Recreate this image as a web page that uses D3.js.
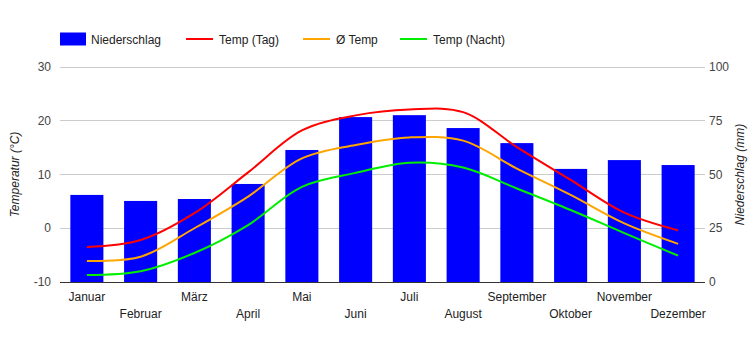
<!DOCTYPE html>
<html><head><meta charset="utf-8">
<script src="https://cdn.jsdelivr.net/npm/d3@7"></script>
<style>body{margin:0;background:#fff}svg{font-family:"Liberation Sans",Arial,sans-serif}</style>
</head><body><svg id="c" width="750" height="350"></svg>
<script>
const months = ["Januar","Februar","März","April","Mai","Juni","Juli","August","September","Oktober","November","Dezember"];
const precip = [40.5, 37.7, 38.6, 45.6, 61.4, 76.7, 77.6, 71.6, 64.6, 52.6, 56.7, 54.4];
const tempDay = [-3.5, -2.2, 2.8, 10.4, 18.2, 21.0, 22.1, 21.6, 15.1, 9.0, 2.9, -0.4];
const tempAvg = [-6.1, -5.3, 0.0, 5.9, 13.0, 15.5, 16.9, 16.3, 11.1, 6.2, 0.9, -2.9];
const tempNight = [-8.7, -8.0, -4.6, 0.6, 7.7, 10.3, 12.2, 11.3, 7.4, 3.4, -0.9, -5.1];
const leftTicks = [-10, 0, 10, 20, 30];
const rightTicks = [0, 25, 50, 75, 100];
const legendItems = [
  {label:"Niederschlag", type:"bar", color:"#0000ff"},
  {label:"Temp (Tag)", type:"line", color:"#ff0000"},
  {label:"Ø Temp", type:"line", color:"#ffa500"},
  {label:"Temp (Nacht)", type:"line", color:"#00ee00"}
];

const svg = d3.select("#c");
const L = 60, R = 705, T = 67, B = 282;
const x = d3.scaleBand().domain(months).range([L, R]).paddingInner(0.385).paddingOuter(0.1925);
const yT = d3.scaleLinear().domain([-10, 30]).range([B, T]);
const yP = d3.scaleLinear().domain([0, 100]).range([B, T]);

// gridlines
svg.append("g").selectAll("line").data(leftTicks).join("line")
  .attr("x1", L).attr("x2", R).attr("y1", d => yT(d)).attr("y2", d => yT(d))
  .attr("stroke", "#cccccc").attr("stroke-width", 1).attr("shape-rendering","crispEdges");

// bars
svg.append("g").selectAll("rect").data(precip).join("rect")
  .attr("x", (d,i) => x(months[i])).attr("width", x.bandwidth())
  .attr("y", d => yP(d)).attr("height", d => yP(0) - yP(d))
  .attr("fill", "#0000ff");

// baseline
svg.append("line").attr("x1", L).attr("x2", R).attr("y1", B).attr("y2", B)
  .attr("stroke", "#333").attr("stroke-width", 1).attr("shape-rendering","crispEdges");

// lines
const cx = i => x(months[i]) + x.bandwidth()/2;
const lineGen = d3.line().x((d,i) => cx(i)).y(d => yT(d)).curve(d3.curveCatmullRom.alpha(0.5));
[[tempDay,"#ff0000"],[tempAvg,"#ffa500"],[tempNight,"#00ee00"]].forEach(([data,color]) => {
  svg.append("path").attr("d", lineGen(data)).attr("fill","none").attr("stroke",color).attr("stroke-width",2);
});

// left axis labels
svg.append("g").selectAll("text").data(leftTicks).join("text")
  .attr("x", 51).attr("y", d => yT(d) + 4).attr("text-anchor","end")
  .attr("font-size", 12).attr("fill", "#444").text(d => d);
// right axis labels
svg.append("g").selectAll("text").data(rightTicks).join("text")
  .attr("x", 709).attr("y", d => yP(d) + 4).attr("text-anchor","start")
  .attr("font-size", 12).attr("fill", "#444").text(d => d);

// x labels
svg.append("g").selectAll("text").data(months).join("text")
  .attr("x", (d,i) => cx(i)).attr("y", (d,i) => i % 2 === 0 ? 301 : 318)
  .attr("text-anchor","middle").attr("font-size", 12).attr("fill", "#222").text(d => d);

// axis titles
svg.append("text").attr("transform", `translate(19,${(T+B)/2}) rotate(-90)`)
  .attr("text-anchor","middle").attr("font-size",12).attr("font-style","italic").attr("fill","#222")
  .text("Temperatur (°C)");
svg.append("text").attr("transform", `translate(744,${(T+B)/2}) rotate(-90)`)
  .attr("text-anchor","middle").attr("font-size",12).attr("font-style","italic").attr("fill","#222")
  .text("Niederschlag (mm)");

// legend
const legX = [60, 186, 303, 400];
const lg = svg.append("g").selectAll("g").data(legendItems).join("g")
  .attr("transform", (d,i) => `translate(${legX[i]},39)`);
lg.each(function(d){
  const g = d3.select(this);
  if (d.type === "bar") g.append("rect").attr("x",0).attr("y",-6.5).attr("width",26).attr("height",13).attr("fill",d.color);
  else g.append("line").attr("x1",0).attr("x2",27).attr("y1",0).attr("y2",0).attr("stroke",d.color).attr("stroke-width",2);
  g.append("text").attr("x", d.type==="bar"?31:33).attr("y",4.5).attr("font-size",12).attr("fill","#222").text(d.label);
});
</script></body></html>
